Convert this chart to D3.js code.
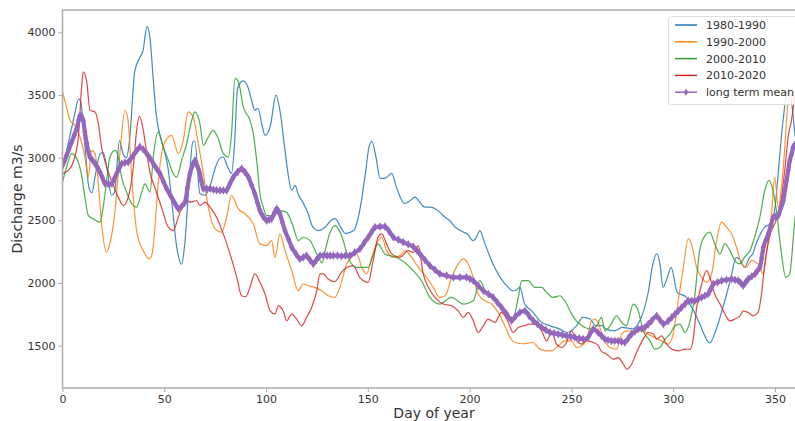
<!DOCTYPE html>
<html><head><meta charset="utf-8">
<script src="https://cdn.jsdelivr.net/npm/d3@7"></script>
<style>
html,body{margin:0;padding:0;background:#fff;}
svg{display:block;font-family:"DejaVu Sans",sans-serif;}
</style></head>
<body><svg id="chart" width="795" height="421"></svg>
<script>
// ---- data: [day of year, discharge m3/s] ----
const seriesNames = ["1980-1990","1990-2000","2000-2010","2010-2020","long term mean"];
const seriesColors = ["#1f77b4","#ff7f0e","#2ca02c","#d62728","#9467bd"];
const xTicks = [0,50,100,150,200,250,300,350];
const yTicks = [1500,2000,2500,3000,3500,4000];

const q1980 = [[0,2900],[2,3050],[4,3200],[6,3350],[8,3470],[9,3440],[11,3100],[13,2760],[14.5,2720],[16,2850],[18.5,3030],[20,3040],[22,2900],[24,2700],[25.5,2720],[28,3135],[30,3020],[31.5,3000],[33,3150],[35.5,3690],[38,3800],[39.5,3850],[41.5,4045],[43,3950],[44.6,3620],[46,3350],[48.5,3140],[50,3060],[52,2900],[54,2600],[56,2300],[58.5,2150],[60,2300],[62,2750],[64,3125],[65,3130],[67.5,2714],[70,2700],[72,2750],[75,2914],[77,2990],[79,3005],[81,2930],[83,2875],[84.5,3100],[86,3554],[88.7,3613],[91.3,3554],[93,3450],[94.5,3378],[96,3394],[98,3260],[99.5,3178],[102,3245],[104.9,3498],[106.8,3378],[109.3,3058],[111,2850],[112.6,2738],[114.2,2778],[116,2700],[118,2645],[120.5,2560],[123,2445],[125.5,2418],[129,2445],[132,2500],[134,2514],[136.5,2450],[139,2394],[143,2418],[146,2578],[149,2898],[150.5,3080],[152,3130],[154,3005],[156,2834],[158.4,2834],[161.7,2874],[164,2765],[168,2634],[171,2660],[173,2685],[178,2605],[180.5,2605],[184.4,2578],[187.9,2525],[190,2500],[193,2445],[197,2405],[199,2390],[201.6,2338],[203.5,2370],[205,2418],[207.5,2314],[210.8,2178],[215,2045],[219,1965],[221,1938],[222.5,1940],[224.7,1965],[227,1834],[230.5,1778],[234.5,1698],[239.5,1658],[244,1634],[248,1605],[252.5,1658],[255.6,1725],[259,1714],[262,1658],[265,1660],[267,1634],[271,1618],[275,1645],[280,1634],[283.6,1698],[287.6,1914],[290,2150],[292,2235],[293.5,2150],[295,1965],[297,2040],[299,2125],[302,1925],[306.6,1885],[308,1834],[310,1780],[313,1674],[318,1522],[320.5,1600],[323,1725],[328,2018],[331,2205],[333,2180],[335,2125],[337.6,2205],[339,2230],[341,2325],[345,2445],[348,2474],[350,2600],[352,2954],[354,3300],[356.5,3550],[358.5,3400],[360,3165],[362,3050],[365,3000]];

const q1990 = [[0,3525],[2,3400],[3.7,3298],[6,3258],[8.6,3165],[11,3005],[12.7,2845],[14.3,3058],[16,3034],[17.6,2792],[19.2,2472],[21.7,2245],[23.3,2314],[25.8,2578],[28.2,3034],[30.7,3378],[32.2,3298],[34,2845],[36.4,2418],[39.7,2258],[42.6,2192],[44,2230],[45.4,2445],[47,2800],[48.7,3032],[51.2,3152],[53.6,3178],[56.9,3032],[59.3,3138],[61.8,3365],[64.2,3325],[66.7,3112],[69.2,2872],[71.6,2605],[75,2432],[78.2,2405],[80.6,2525],[83,2698],[86.4,2592],[89.6,2552],[93.7,2472],[97,2312],[100.3,2298],[102.7,2338],[104.4,2205],[106.8,2392],[109.3,2258],[112.6,2098],[115.8,1938],[118.3,1992],[120.7,1978],[124,1965],[127.3,1938],[130.6,1898],[133.8,1885],[136.3,1965],[139.6,2152],[142,2205],[144.5,2232],[147,2125],[149.4,2072],[151.9,2205],[154.3,2312],[156.8,2365],[159.2,2258],[162.5,2205],[165.8,2218],[168.2,2258],[171.5,2205],[174.8,2125],[178.9,2045],[182.1,1965],[185.4,1885],[188,1898],[191.2,2045],[194.4,2152],[196.9,2192],[199.3,2152],[201.8,2045],[204.2,1912],[207.5,1858],[210.8,1832],[214,1765],[217.3,1658],[219.8,1565],[222.3,1525],[226.3,1515],[231,1525],[234.5,1472],[237.8,1458],[240.3,1458],[243.5,1498],[246.8,1538],[250,1538],[252.6,1485],[255,1498],[257.5,1552],[260,1700],[261.6,1712],[263,1690],[265.6,1565],[269,1485],[272.2,1472],[274.7,1592],[277,1618],[284.5,1618],[287.7,1592],[291,1565],[294.3,1538],[297.6,1512],[300,1592],[302.5,1858],[305,2125],[307.4,2352],[309,2312],[311.5,2125],[314,2045],[316.4,2005],[318.9,2072],[321.3,2338],[323.8,2485],[326.2,2445],[328.7,2392],[331.1,2285],[333.6,2152],[336,2125],[338.5,2178],[341.7,2152],[344.2,2072],[345.8,2232],[348.3,2552],[349.9,2845],[351.6,2605],[354.1,2925],[356.5,3458],[358.2,3565],[359.8,3458],[362,3250],[365,3150]];

const q2000 = [[0,2805],[2,2925],[4.5,3032],[7,2992],[9.4,2858],[11,2685],[12.7,2538],[15.1,2512],[18.4,2485],[20,2605],[21.7,2818],[23.3,3005],[25.8,3058],[27.4,3005],[29,2845],[31.5,2725],[34,2632],[36.4,2605],[38.9,2725],[40.5,2790],[43,2725],[44.6,3005],[47,3205],[49.5,3085],[52,2978],[54.4,2872],[56.1,2845],[58.5,2978],[61,3112],[63.5,3298],[65,3365],[67.5,3272],[69.2,3098],[71.6,3165],[74,3218],[76.5,3152],[79,3032],[81.4,3005],[83.1,3205],[84.7,3632],[86.4,3605],[88.8,3405],[92.1,3298],[93.7,3192],[95.4,2978],[97,2712],[98.6,2605],[100.3,2538],[103.5,2538],[106.8,2578],[110,2565],[113.4,2445],[115.8,2338],[118.3,2365],[121.6,2338],[124.9,2232],[127.5,2160],[128.9,2250],[131.4,2400],[134,2460],[137,2380],[141,2178],[144.5,2125],[150.2,2125],[152.5,2220],[155,2312],[158.4,2232],[164,2205],[169,2152],[172.3,2098],[176.4,2018],[180.5,1885],[185.4,1832],[191,1885],[197,1832],[201.8,1858],[205,2018],[208.3,1912],[213,1858],[218,1752],[221.4,1725],[223.9,1885],[225.5,2018],[228.8,2018],[232,1965],[235.4,1965],[237.8,1925],[241,1885],[244.3,1898],[246.8,1858],[249.3,1778],[251.7,1712],[254.2,1672],[256.6,1645],[260,1632],[262.4,1658],[264.8,1725],[266.5,1618],[269,1658],[272.2,1738],[274.7,1685],[277,1658],[280.4,1832],[282.8,1778],[285.3,1618],[288.6,1538],[291,1472],[293.5,1485],[296,1552],[298.4,1592],[300.9,1658],[303.3,1672],[305.8,1605],[308.3,1698],[310.6,1900],[313,2258],[315.6,2378],[318,2405],[320.4,2312],[323,2232],[325.4,2312],[327.9,2258],[330.3,2178],[332.8,2152],[335,2205],[337.7,2258],[340,2365],[342.6,2525],[345,2738],[347,2818],[349,2738],[350.7,2578],[353,2258],[355.3,2045],[357.2,2072],[359.6,2472],[362,2800],[365,2900]];

const q2010 = [[0,2872],[2.8,2898],[5.3,2965],[7.8,3165],[9.4,3565],[10.2,3685],[11.9,3605],[13.5,3378],[16,3365],[17.6,3272],[19.2,3085],[21.7,2925],[25,2778],[27.4,2685],[29.9,2618],[32.3,2685],[34.8,2925],[36.4,3218],[37.8,3330],[39.7,3218],[41.4,3032],[43,2880],[45.4,2760],[48.7,2600],[52,2445],[54.4,2418],[56.9,2525],[60.2,2658],[63.5,2645],[65.9,2658],[67.5,2618],[70,2645],[72.5,2605],[75.7,2525],[79,2392],[82.3,2232],[85.6,2045],[88,1898],[90,1890],[92.1,1965],[94.5,2072],[97,2005],[99.5,1912],[102,1778],[104.4,1752],[106,1818],[108.4,1778],[110.1,1698],[112.6,1752],[115,1712],[117.5,1658],[119.9,1725],[122.4,1805],[124.9,1938],[126.5,2072],[128.1,2072],[130.6,2030],[133.8,2010],[137,2085],[142.8,2138],[146,2045],[150.2,2005],[152.6,2178],[155,2365],[156.8,2392],[159.2,2312],[161.7,2232],[165.8,2205],[169.8,2258],[172.3,2245],[174.8,2298],[177.2,2072],[179.7,1965],[183,1885],[187,1832],[191.1,1818],[194.4,1778],[196.9,1725],[199.3,1765],[201.8,1698],[204.2,1605],[206.7,1658],[209.1,1712],[212.4,1685],[215.7,1765],[219,1685],[221.4,1605],[223.9,1645],[227.2,1660],[229,1672],[232,1672],[235.4,1618],[237.8,1538],[240.3,1605],[242.7,1512],[245.2,1485],[247.6,1525],[250,1618],[252.6,1538],[255,1512],[257.5,1538],[260.8,1525],[263.3,1500],[264.5,1458],[267.3,1432],[270.6,1392],[273,1405],[275.5,1352],[277.2,1312],[279.6,1352],[282,1445],[285.3,1552],[287.8,1605],[290.3,1592],[291.9,1552],[294.3,1578],[296.8,1512],[299.3,1472],[302.5,1458],[305.8,1472],[308.3,1470],[309.9,1560],[311.5,1800],[314,1992],[316.4,2098],[318,2045],[320.4,1912],[323,1832],[325.4,1752],[327.9,1698],[330.3,1712],[332.8,1738],[334.4,1778],[336.8,1765],[339.3,1738],[341.7,1765],[343.4,1912],[345,2152],[346.6,2312],[348.3,2418],[349.9,2472],[351.6,2552],[353.2,2685],[354.8,2898],[356.5,3165],[358.1,3298],[359.8,3485],[362,3600],[365,3650]];

const qMean = [[0,2938],[1,2975],[2,3018],[3.2,3070],[4.5,3125],[5.8,3180],[7,3232],[8,3300],[8.6,3338],[9.4,3330],[10.2,3298],[11,3200],[11.9,3112],[12.7,3050],[13.5,3005],[14.8,2980],[16,2952],[17.2,2920],[18.4,2885],[19.6,2840],[20.9,2792],[22.5,2790],[24.2,2792],[25.4,2830],[26.6,2872],[27.8,2915],[29.1,2952],[30.7,2960],[32.3,2965],[33.5,2990],[34.8,3018],[36.4,3055],[38,3085],[39.7,3065],[41.4,3032],[43,2995],[44.6,2952],[46.2,2912],[47.9,2872],[49.5,2812],[51.2,2752],[52.8,2705],[54.4,2658],[55.6,2625],[56.9,2592],[58.5,2610],[60.2,2645],[61.4,2760],[62.6,2872],[63.8,2935],[65.1,2978],[66.3,2930],[67.5,2872],[68.3,2810],[69.2,2752],[70.8,2752],[72.5,2752],[74.1,2745],[75.7,2740],[77.4,2738],[79,2738],[80.6,2738],[82.2,2790],[83.9,2845],[86,2885],[88,2912],[89.6,2885],[91.3,2845],[92.9,2780],[94.5,2712],[95.8,2640],[97,2578],[98.6,2530],[100.3,2498],[101.5,2505],[102.7,2512],[104,2555],[105.2,2592],[106,2575],[106.8,2552],[108,2485],[109.3,2418],[111,2350],[112.6,2285],[114.6,2235],[116.6,2192],[118.3,2205],[119.9,2218],[121.5,2185],[123.2,2152],[124.8,2185],[126.5,2218],[128.2,2218],[130,2218],[131.5,2218],[133,2218],[135,2218],[137,2215],[139,2218],[141.2,2218],[143.6,2245],[146.1,2272],[148.2,2320],[150.2,2365],[151.8,2405],[153.5,2445],[156,2450],[158.4,2450],[160.5,2410],[162.5,2365],[165,2345],[167.4,2325],[169.8,2308],[172.3,2290],[174,2262],[175.6,2232],[178,2185],[180.5,2138],[183,2105],[185.4,2072],[188.7,2058],[192,2045],[195.2,2045],[198.5,2045],[200.2,2032],[201.8,2018],[204.3,1978],[206.7,1938],[209.2,1912],[211.6,1885],[213.6,1845],[215.7,1805],[218.2,1752],[220.6,1698],[222.6,1735],[224.7,1765],[227.2,1778],[229.2,1738],[231.3,1698],[233.3,1672],[235.4,1645],[237.4,1625],[239.5,1605],[241.5,1598],[243.5,1592],[245.6,1585],[247.6,1578],[249.7,1572],[251.7,1565],[253.8,1558],[255.8,1552],[258.2,1565],[260.7,1632],[263.1,1605],[264.8,1578],[266.4,1552],[268,1545],[269.7,1538],[271.3,1538],[273,1538],[274.6,1532],[276.3,1525],[278,1560],[279.6,1592],[281.2,1612],[282.8,1632],[284.5,1638],[286.1,1645],[287.8,1672],[289.4,1698],[291.9,1738],[293.5,1705],[295.2,1672],[297.6,1698],[299.3,1725],[300.9,1752],[302.5,1778],[304.1,1805],[305.8,1832],[307.4,1858],[309,1858],[310.6,1858],[312.3,1872],[314,1885],[315.6,1898],[317.2,1912],[318.4,1950],[319.7,1992],[321.8,2005],[323.8,2018],[326.2,2025],[328.7,2032],[330.3,2025],[332,2018],[333.2,2000],[334.4,1978],[335.6,2005],[336.9,2032],[338.6,2052],[340.2,2072],[341.4,2098],[342.6,2125],[343.5,2200],[344.3,2285],[345.5,2340],[346.7,2392],[348,2460],[349.2,2525],[350.4,2530],[351.6,2538],[352.9,2600],[354.1,2658],[354.9,2740],[355.7,2818],[356.5,2900],[357.3,2978],[358.2,3030],[359,3085],[360.5,3120],[362,3150],[363.5,3175],[365,3200]];

const allSeries = [q1980, q1990, q2000, q2010];

// ---- layout ----
const svg = d3.select("#chart");
const x = d3.scaleLinear().domain([0, 365]).range([62.5, 805.5]);
const y = d3.scaleLinear().domain([1162, 4178]).range([388, 10]);
const axisColor = "#aaaaaa";
const textColor = "#333333";

svg.append("defs").append("clipPath").attr("id","clip")
  .append("rect").attr("x",62.5).attr("y",10).attr("width",743).attr("height",378);

const line = d3.line().x(d=>x(d[0])).y(d=>y(d[1])).curve(d3.curveMonotoneX);

const plot = svg.append("g").attr("clip-path","url(#clip)");
allSeries.forEach((s,i)=>{
  plot.append("path").datum(s).attr("d",line)
    .attr("fill","none").attr("stroke",seriesColors[i]).attr("stroke-opacity",0.85)
    .attr("stroke-width",1.2).attr("stroke-linejoin","round");
});
plot.append("path").datum(qMean).attr("d",line)
  .attr("fill","none").attr("stroke",seriesColors[4]).attr("stroke-width",4.2)
  .attr("stroke-linejoin","round");
const diamond = d3.symbol().type(d3.symbolDiamond).size(22);
plot.selectAll("path.mk").data(qMean).enter().append("path").attr("class","mk")
  .attr("d",diamond).attr("transform",d=>`translate(${x(d[0])},${y(d[1])})`)
  .attr("fill",seriesColors[4]);

// ---- axes ----
const xAxis = d3.axisBottom(x).tickValues(xTicks).tickSize(4).tickPadding(3).tickFormat(d3.format("d"));
const yAxis = d3.axisLeft(y).tickValues(yTicks).tickSize(4).tickPadding(3).tickFormat(d3.format("d"));
const gx = svg.append("g").attr("transform","translate(0,388)").call(xAxis);
const gy = svg.append("g").attr("transform","translate(62.5,0)").call(yAxis);
[gx,gy].forEach(g=>{
  g.select(".domain").remove();
  g.selectAll(".tick line").attr("stroke",axisColor).attr("stroke-width",1);
  g.selectAll(".tick text").attr("fill",textColor).style("font-size","11px")
    .style("font-family","'DejaVu Sans',sans-serif");
});
// spines
svg.append("rect").attr("x",62.5).attr("y",10).attr("width",743).attr("height",378)
  .attr("fill","none").attr("stroke",axisColor).attr("stroke-width",1.5);

// axis titles
svg.append("text").attr("x",434).attr("y",418).attr("text-anchor","middle")
  .attr("fill",textColor).style("font-size","14px").text("Day of year");
svg.append("text").attr("transform","translate(22,199) rotate(-90)").attr("text-anchor","middle")
  .attr("fill",textColor).style("font-size","14px").text("Discharge m3/s");

// ---- legend ----
const lg = svg.append("g");
lg.append("rect").attr("x",668.5).attr("y",16.5).attr("width",140).attr("height",88)
  .attr("rx",3).attr("fill","#fff").attr("fill-opacity",0.85)
  .attr("stroke","#dddddd").attr("stroke-width",1);
seriesNames.forEach((nm,i)=>{
  const yy = 25 + i*16.8;
  lg.append("line").attr("x1",675).attr("x2",697).attr("y1",yy).attr("y2",yy)
    .attr("stroke",seriesColors[i]).attr("stroke-width",1.5);
  if(i===4){
    lg.append("path").attr("d",d3.symbol().type(d3.symbolDiamond).size(16)())
      .attr("transform",`translate(686,${yy})`).attr("fill",seriesColors[4]);
  }
  lg.append("text").attr("x",706).attr("y",yy+4).attr("fill",textColor)
    .style("font-size","11px").text(nm);
});
</script>
</body></html>
